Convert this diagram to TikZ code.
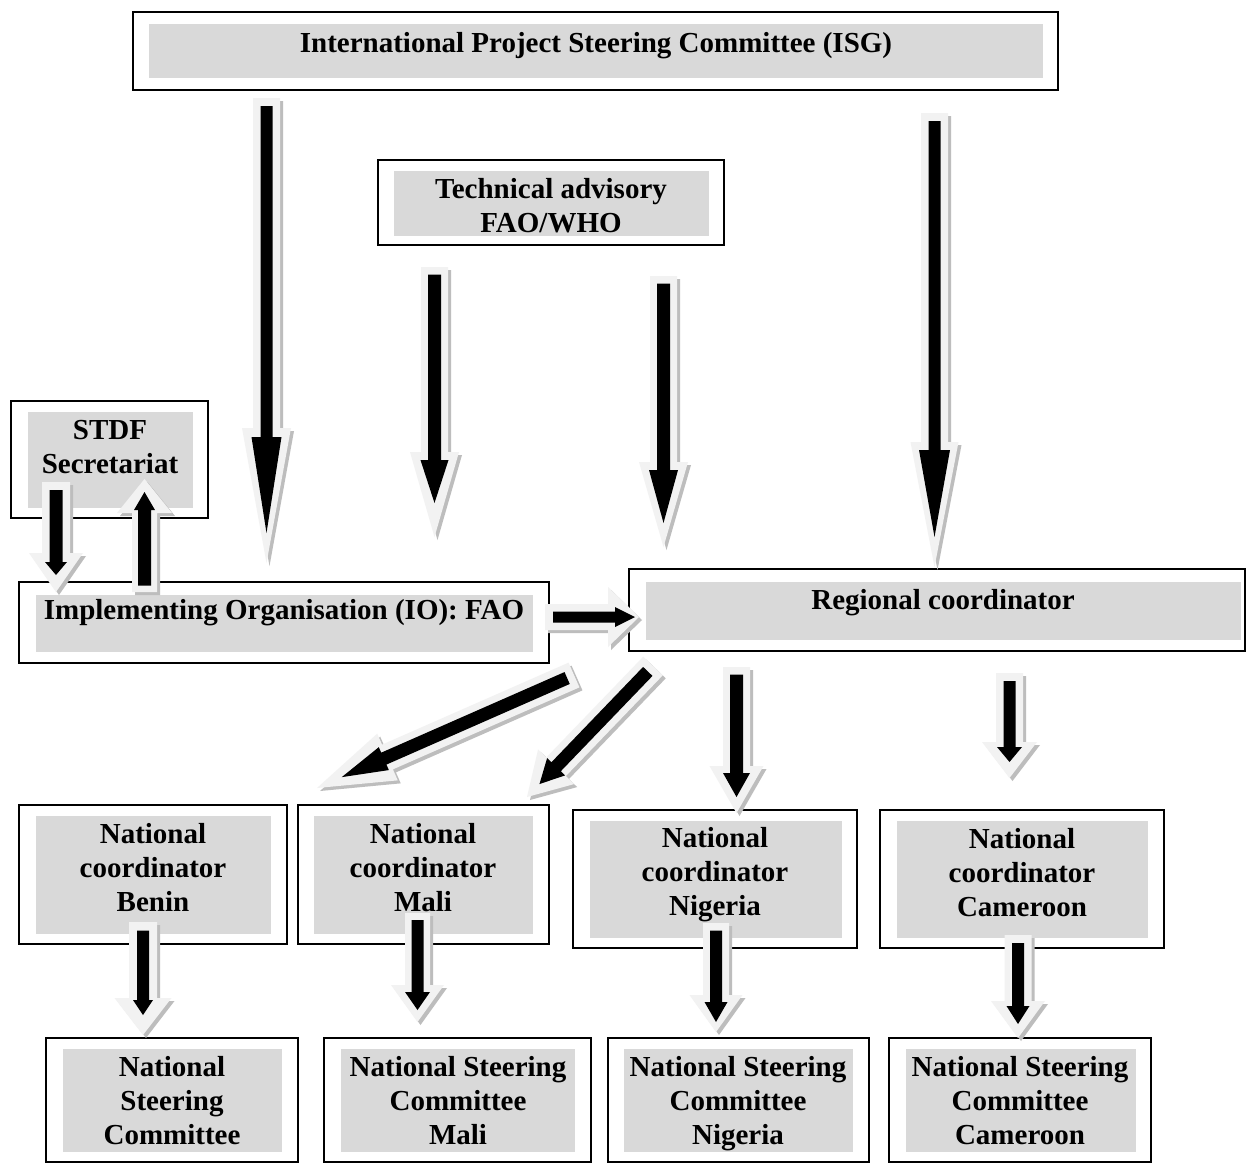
\documentclass[tikz,border=0pt]{standalone}
\usepackage{fontspec}
\setmainfont{Liberation Serif}
\usetikzlibrary{calc}
\definecolor{boxgray}{HTML}{D9D9D9}
\definecolor{arrowgray}{HTML}{F2F2F2}
\definecolor{shadowgray}{HTML}{BDBDBD}
\tikzset{
  frame/.style={draw=black, line width=1.6pt},
  inner/.style={fill=boxgray},
  txt/.style={align=center, inner sep=0pt, font=\bfseries\fontsize{29}{34}\selectfont}
}
% generic block-arrow outline: style, tail, tip, half shaft, half head, head length
\newcommand\ashape[6]{%
  \coordinate (tmpC) at ($(#3)!#6pt!(#2)$);
  \path[#1] ($(#2)!#4pt!90:(#3)$) -- ($(tmpC)!#4pt!90:(#3)$) -- ($(tmpC)!#5pt!90:(#3)$) -- (#3)
    -- ($(tmpC)!#5pt!-90:(#3)$) -- ($(tmpC)!#4pt!-90:(#3)$) -- ($(#2)!#4pt!-90:(#3)$) -- cycle;
}
% full arrow: tail, tip, outer (shaft, head, length), inner (shaft, head, length), tip inset
\newcommand\barrow[9]{%
  \begin{scope}[transform canvas={shift={(3pt,-3pt)}}]
    \ashape{fill=shadowgray}{#1}{#2}{#3}{#4}{#5}
  \end{scope}
  \ashape{fill=arrowgray}{#1}{#2}{#3}{#4}{#5}
  \pgfmathsetmacro\tin{#3-#6+0.5}
  \coordinate (tmpA) at ($(#1)!\tin pt!(#2)$);
  \coordinate (tmpB) at ($(#2)!#9pt!(#1)$);
  \ashape{fill=black}{tmpA}{tmpB}{#6}{#7}{#8}
}
\newcommand\bx[8]{%
  \draw[frame] (#1,#2) rectangle (#3,#4);
  \fill[inner] (#5,#6) rectangle (#7,#8);
}
\begin{document}
\begin{tikzpicture}[x=1pt,y=-1pt]
\useasboundingbox (0,0) rectangle (1247,1167);
\fill[white] (0,0) rectangle (1247,1167);

% boxes
\bx{133}{12}{1058}{90}{149}{24}{1043}{78}
\bx{378}{160}{724}{245}{394}{171}{709}{236}
\bx{11}{401}{208}{518}{28}{412}{193}{508}
\bx{19}{582}{549}{663}{36}{595}{533}{652}
\bx{629}{569}{1245}{651}{646}{582}{1241}{640}
\bx{19}{805}{287}{944}{36}{816}{271}{934}
\bx{298}{805}{549}{944}{314}{816}{533}{934}
\bx{573}{810}{857}{948}{590}{821}{842}{938}
\bx{880}{810}{1164}{948}{897}{821}{1148}{938}
\bx{46}{1038}{298}{1162}{63}{1049}{282}{1152}
\bx{324}{1038}{591}{1162}{341}{1049}{575}{1152}
\bx{608}{1038}{869}{1162}{624}{1049}{853}{1152}
\bx{889}{1038}{1151}{1162}{906}{1049}{1136}{1152}

% texts
\node[txt] (isg) at (596,46) {International Project Steering Committee (ISG)};
\node[txt] (tech) at (551,206) {Technical advisory\\FAO/WHO};
\node[txt] (stdf) at (110,447) {STDF\\Secretariat};
\node[txt] (io) at (284,613) {Implementing Organisation (IO): FAO};
\node[txt] (reg) at (943,603) {Regional coordinator};
\node[txt] (ncb) at (153,868) {National\\coordinator\\Benin};
\node[txt] (ncm) at (423,868) {National\\coordinator\\Mali};
\node[txt] (ncn) at (715,875) {National\\coordinator\\Nigeria};
\node[txt] (ncc) at (1022,873) {National\\coordinator\\Cameroon};
\node[txt] (nsb) at (172,1101) {National\\Steering\\Committee};
\node[txt] (nsm) at (458,1101) {National Steering\\Committee\\Mali};
\node[txt] (nsn) at (738,1104) {National Steering\\Committee\\Nigeria};
\node[txt] (nsc) at (1020,1101) {National Steering\\Committee\\Cameroon};

% arrow end points
\coordinate (a1t) at (266.5,98);   \coordinate (a1h) at (266.5,563);
\coordinate (a2t) at (934.5,113);  \coordinate (a2h) at (934.5,567);
\coordinate (a3t) at (434.5,267);  \coordinate (a3h) at (434.5,537);
\coordinate (a4t) at (663.5,276);  \coordinate (a4h) at (663.5,547);
\coordinate (a5t) at (736.5,667);  \coordinate (a5h) at (736.5,813);
\coordinate (a6t) at (1009.5,673); \coordinate (a6h) at (1009.5,778);
\coordinate (a7t) at (417.5,913);  \coordinate (a7h) at (417.5,1022);
\coordinate (a8t) at (716,923);    \coordinate (a8h) at (716,1032);
\coordinate (a9t) at (143,922);    \coordinate (a9h) at (143,1035);
\coordinate (a10t) at (1018,935);  \coordinate (a10h) at (1018,1038);
\coordinate (a11t) at (56,482);    \coordinate (a11h) at (56,592);
\coordinate (a12t) at (144.5,592); \coordinate (a12h) at (144.5,479);
\coordinate (a13t) at (545,617);   \coordinate (a13h) at (639,617);
\coordinate (a14t) at (574,675);   \coordinate (a14h) at (317,788);
\coordinate (a15t) at (653,666);   \coordinate (a15h) at (527,797);

% arrows
\barrow{a1t}{a1h}{13.5}{24.5}{135}{6}{15}{96}{30}
\barrow{a2t}{a2h}{13.5}{24}{125}{6}{15.5}{87}{30}
\barrow{a3t}{a3h}{13.5}{24.5}{85}{6.5}{14}{43}{34}
\barrow{a4t}{a4h}{13.5}{24.5}{85}{6.5}{14.5}{53}{24}
\barrow{a5t}{a5h}{13.5}{27}{47}{6.5}{13.5}{24}{16}
\barrow{a6t}{a6h}{13.5}{27.5}{36}{6}{12.5}{15}{16}
\barrow{a7t}{a7h}{12.5}{26.5}{37}{6}{12.5}{18}{12}
\barrow{a8t}{a8h}{13}{26.5}{37}{6}{11.5}{20}{10}
\barrow{a9t}{a9h}{14}{28.5}{37}{6}{10}{15}{20}
\barrow{a10t}{a10h}{13.5}{27}{37}{6}{11.5}{18}{14}
\barrow{a11t}{a11h}{14}{27}{39}{6.5}{11}{13}{17}
\barrow{a12t}{a12h}{12.5}{27.5}{34}{6.5}{10.5}{18}{13}
\barrow{a13t}{a13h}{13}{30}{31}{5.5}{10}{20}{4}
\barrow{a14t}{a14h}{13.5}{25.5}{77}{6.5}{12.5}{46}{27}
\barrow{a15t}{a15h}{13.5}{25}{42}{6.5}{12.5}{24}{18}
\end{tikzpicture}
\end{document}
